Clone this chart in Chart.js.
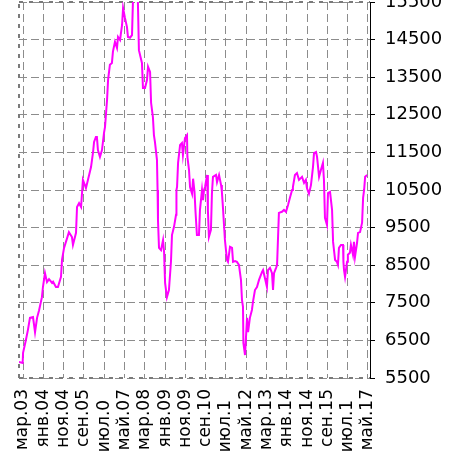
<!DOCTYPE html>
<html><head><meta charset="utf-8">
<script src="https://cdn.jsdelivr.net/npm/chart.js@4"></script>
<style>html,body{margin:0;padding:0;background:#fff;overflow:hidden}canvas{display:block}</style>
</head><body>
<canvas id="c" width="461" height="459"></canvas>
<script>
// months since Jan 2003
const months = [0,1.8,2.0,3.4,4.4,5.4,6.9,7.9,8.9,9.9,
11.3,11.8,12.8,13.8,14.8,16.3,16.8,18.2,19.2,20.7,
21.2,22.2,23.7,24.6,26.1,26.6,28.1,28.6,29.6,30.6,
31.5,33.0,34.0,35.5,36.5,37.0,37.9,38.4,38.9,39.9,
40.9,41.9,42.4,43.4,43.9,44.8,45.8,46.3,47.3,48.3,
48.8,49.8,50.8,51.3,52.2,53.2,53.7,54.7,55.7,56.2,
57.2,58.2,58.6,59.1,60.6,61.1,62.1,63.1,63.6,64.6,
65.1,66.0,66.5,67.0,68.0,68.3,68.5,69.0,70.0,71.0,
71.5,72.0,72.9,73.9,74.9,75.4,76.4,77.4,77.6,77.9,
78.4,79.4,80.3,80.8,81.8,82.8,83.0,83.8,84.3,85.3,
85.8,86.5,87.0,87.7,88.7,89.2,90.2,90.7,91.2,91.7,
92.7,93.1,93.6,94.6,95.1,95.6,97.1,97.6,98.6,99.6,
100.0,100.5,101.5,102.5,103.0,104.0,105.0,105.5,106.5,107.4,
108.4,109.4,109.9,110.4,110.6,111.4,112.4,112.9,113.8,114.8,
115.3,116.3,117.3,118.3,119.8,120.3,121.2,122.2,122.7,123.7,
124.7,125.2,125.7,126.7,127.2,128.1,129.6,130.6,131.6,132.6,
133.6,134.6,135.0,136.0,137.0,138.0,139.5,140.5,141.4,141.9,
142.9,143.9,144.9,145.4,146.4,146.9,147.9,148.8,149.8,150.3,
150.8,151.8,152.3,153.3,154.3,154.8,155.8,156.7,157.2,157.7,
158.7,159.7,159.9,160.2,160.7,161.7,162.1,163.1,163.6,164.6,
165.1,165.6,166.6,167.1,168.1,169.1,169.6,170.1,170.6,171.6];
const values = [5930,5900,6170,6510,6780,7100,7120,6720,7100,7300,
7650,7920,8290,8050,8130,8030,8060,7920,7920,8190,
8640,8960,9220,9380,9250,9040,9360,10050,10150,10050,
10770,10550,10770,11110,11510,11780,11910,11910,11560,11380,
11560,12020,12180,12900,13430,13830,13880,14180,14440,14280,
14570,14490,14890,15340,15080,14840,14570,14550,14620,15600,
16000,15900,15500,14220,13880,13210,13210,13430,13780,13640,
12820,12440,11960,11780,11300,10500,9700,8960,8900,9170,
8850,8030,7650,7840,8590,9300,9520,9840,10500,10580,
11220,11700,11750,11430,11880,11960,11380,11030,10580,10400,
10800,10450,9920,9300,9300,9970,10500,10230,10500,10580,
10900,9970,9250,9440,10420,10850,10900,10710,10900,10630,
10450,10050,9170,8640,8590,8990,8960,8590,8610,8590,
8510,8110,7580,7390,6430,6110,7100,6720,7100,7310,
7520,7840,7920,8110,8320,8370,8160,7920,8370,8430,
8290,7840,8290,8430,8510,9890,9920,9970,9920,10100,
10310,10500,10580,10900,10950,10770,10850,10690,10770,10550,
10400,10630,11110,11480,11510,11380,10850,11030,11220,10770,
9760,9570,10420,10450,9970,9120,8640,8590,8510,8960,
9040,9040,8590,8370,8190,8590,8780,8830,9040,8780,
9120,8720,9090,9360,9380,9630,10290,10500,10850,10900];
const xTickMonths = [2,12,22,32,42,52,62,72,82,92,102,112,122,132,142,152,162,172];
const xTickLabels = ['мар.03','янв.04','ноя.04','сен.05','июл.0','май.07','мар.08','янв.09','ноя.09','сен.10','июл.1','май.12','мар.13','янв.14','ноя.14','сен.15','июл.1','май.17'];
const yTickValues = [5500,6500,7500,8500,9500,10500,11500,12500,13500,14500,15500];

const frame = {
  id:'frame',
  beforeDatasetsDraw(chart){
    const {ctx, chartArea:a} = chart;
    ctx.save();
    ctx.strokeStyle = '#7a7a7a';
    ctx.lineWidth = 2;
    ctx.setLineDash([4,6]);
    ctx.beginPath();
    ctx.moveTo(a.left, a.bottom); ctx.lineTo(a.left, a.top);
    ctx.moveTo(a.left, a.top); ctx.lineTo(a.right, a.top);
    ctx.moveTo(a.left, a.bottom); ctx.lineTo(a.right, a.bottom);
    ctx.stroke();
    ctx.restore();
  }
};

new Chart(document.getElementById('c'), {
  type:'line',
  data:{datasets:[{
    data: months.map((m,i)=>({x:m, y:values[i]})),
    borderColor:'#ff00ff', borderWidth:2, pointRadius:0, tension:0, fill:false
  }]},
  options:{
    responsive:false, animation:false, devicePixelRatio:1,
    layout:{padding:{left:19, top:2, right:0, bottom:0}},
    plugins:{legend:{display:false}, tooltip:{enabled:false}},
    scales:{
      x:{type:'linear', min:0, max:173,
        afterBuildTicks:s=>{ s.ticks = xTickMonths.map(v=>({value:v})); },
        afterFit:s=>{ s.height = 81; s.paddingLeft = 0; s.paddingRight = 0; },
        ticks:{autoSkip:false, minRotation:90, maxRotation:90, padding:11, color:'#000',
          font:{family:'DejaVu Sans', size:17},
          callback:(v,i)=>{ const l = xTickLabels[i]; return l.length < 6 ? l + '\u2007' : l; }},
        grid:{color:'#8c8c8c', lineWidth:1, drawTicks:false},
        border:{display:false, dash:[8,4]}
      },
      y:{position:'right', min:5500, max:15500,
        afterBuildTicks:s=>{ s.ticks = yTickValues.map(v=>({value:v})); },
        afterFit:s=>{ s.width = 91; s.paddingTop = 0; s.paddingBottom = 0; },
        ticks:{padding:10, color:'#000', font:{family:'DejaVu Sans', size:18}, callback:v=>String(v)},
        grid:{color:'#8c8c8c', lineWidth:1, tickColor:'#000', tickLength:5, tickWidth:1, tickBorderDash:[]},
        border:{display:true, color:'#000', width:1, dash:[8,4]}
      }
    }
  },
  plugins:[frame]
});
</script>
</body></html>
